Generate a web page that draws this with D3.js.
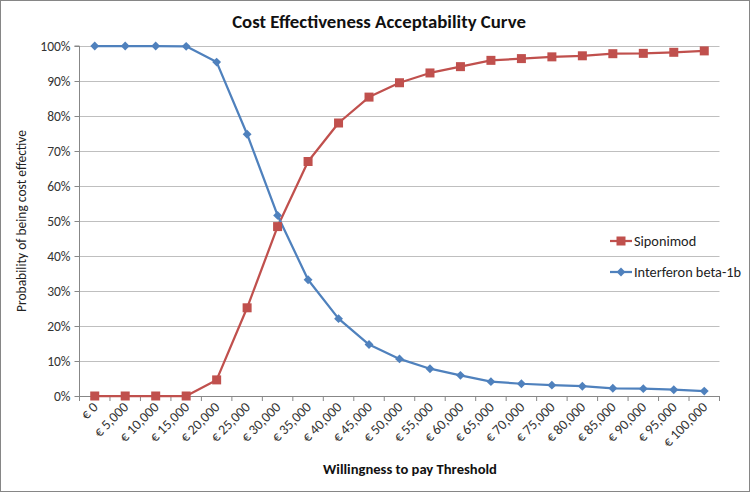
<!DOCTYPE html>
<html><head><meta charset="utf-8">
<script src="https://cdn.jsdelivr.net/npm/d3@7"></script>
<style>body{margin:0;background:#fff;} svg{display:block;font-family:Carlito,"Open Sans","Liberation Sans",sans-serif;}</style>
</head><body>
<script>
const categories = ["€ 0","€ 5,000","€ 10,000","€ 15,000","€ 20,000","€ 25,000","€ 30,000","€ 35,000","€ 40,000","€ 45,000","€ 50,000","€ 55,000","€ 60,000","€ 65,000","€ 70,000","€ 75,000","€ 80,000","€ 85,000","€ 90,000","€ 95,000","€ 100,000"];
const siponimod = [0,0,0,0,4.6,25.2,48.4,67.0,78.0,85.4,89.5,92.3,94.1,95.9,96.4,96.9,97.2,97.8,97.9,98.2,98.6];
const interferon = [100,100,100,99.9,95.4,74.8,51.6,33.2,22.1,14.7,10.6,7.8,5.9,4.1,3.5,3.1,2.8,2.2,2.1,1.8,1.4];
const yTicks = [0,10,20,30,40,50,60,70,80,90,100];
const seriesNames = ["Siponimod","Interferon beta-1b"];
const colors = ["#C0504D","#4F81BD"];

const W=750,H=492;
const svg=d3.select("body").append("svg").attr("width",W).attr("height",H);
svg.append("rect").attr("x",0.5).attr("y",0.5).attr("width",W-1).attr("height",H-1).attr("fill","#fff").attr("stroke","#868686");

const L=79.5,R=719.5,T=46,B=396;
const x=d3.scaleBand().domain(categories).range([L,R]);
const y=d3.scaleLinear().domain([0,100]).range([B,T]);

// gridlines
svg.append("g").selectAll("line").data(yTicks.filter(d=>d>0)).join("line")
 .attr("x1",L).attr("x2",R).attr("y1",d=>Math.round(y(d))+0.5).attr("y2",d=>Math.round(y(d))+0.5)
 .attr("stroke","#BFBFBF").attr("stroke-width",1);

// y axis
const ya=svg.append("g").attr("transform",`translate(${L},0)`)
 .call(d3.axisLeft(y).tickValues(yTicks).tickFormat(d=>d+"%").tickSize(5).tickPadding(4));
ya.select(".domain").attr("stroke","#878787").attr("d",`M-5,${T}H0V${B}`);
ya.selectAll(".tick line").attr("stroke","#878787");
ya.selectAll("text").attr("font-size",13.5).attr("fill","#333").style("font-family","Carlito,'Open Sans','Liberation Sans',sans-serif");

// x axis
const xa=svg.append("g").attr("transform",`translate(0,${B})`);
xa.append("line").attr("x1",L).attr("x2",R).attr("y1",0.5).attr("y2",0.5).attr("stroke","#878787");
const bounds=categories.map(c=>x(c)).concat([R]);
xa.selectAll(".tk").data(bounds).join("line").attr("class","tk")
 .attr("x1",d=>d).attr("x2",d=>d).attr("y1",0).attr("y2",5).attr("stroke","#878787");
xa.selectAll(".lbl").data(categories).join("text").attr("class","lbl")
 .attr("transform",d=>`translate(${x(d)+x.bandwidth()/2+4},${12}) rotate(-45)`)
 .attr("text-anchor","end").attr("font-size",14).attr("fill","#333").text(d=>d);

// series
const allSeries=[siponimod,interferon];
const line=d3.line().x((d,i)=>x(categories[i])+x.bandwidth()/2).y(d=>y(d));
allSeries.forEach((s,k)=>{
  svg.append("path").datum(s).attr("d",line).attr("fill","none").attr("stroke",colors[k]).attr("stroke-width",2.25).attr("stroke-linejoin","round");
});
// markers
svg.append("g").selectAll("rect").data(siponimod).join("rect")
 .attr("x",(d,i)=>x(categories[i])+x.bandwidth()/2-4.5).attr("y",d=>y(d)-4.5)
 .attr("width",9).attr("height",9).attr("fill",colors[0]);
const diamond=d3.symbol().type(d3.symbolDiamond2).size(50);
svg.append("g").selectAll("path").data(interferon).join("path")
 .attr("transform",(d,i)=>`translate(${x(categories[i])+x.bandwidth()/2},${y(d)})`)
 .attr("d",diamond).attr("fill",colors[1]);

// legend
const lg=svg.append("g");
seriesNames.forEach((n,k)=>{
  const ly=241+k*31;
  lg.append("line").attr("x1",610).attr("x2",632).attr("y1",ly).attr("y2",ly).attr("stroke",colors[k]).attr("stroke-width",2.25);
  if(k===0) lg.append("rect").attr("x",616.5).attr("y",ly-4.5).attr("width",9).attr("height",9).attr("fill",colors[0]);
  else lg.append("path").attr("transform",`translate(621,${ly})`).attr("d",diamond).attr("fill",colors[1]);
  lg.append("text").attr("x",634).attr("y",ly+5).attr("font-size",14.3).attr("fill","#222").text(n);
});

// titles
svg.append("text").attr("x",379).attr("y",28).attr("text-anchor","middle").attr("font-size",18.8).attr("font-weight","bold").attr("fill","#111").text("Cost Effectiveness Acceptability Curve");
svg.append("text").attr("x",410).attr("y",474).attr("text-anchor","middle").attr("font-size",14.6).attr("font-weight","bold").attr("fill","#111").text("Willingness to pay Threshold");
svg.append("text").attr("transform",`translate(26,${(T+B)/2}) rotate(-90)`).attr("text-anchor","middle").attr("font-size",13.5).attr("fill","#222").text("Probability of being cost effective");
</script>
</body></html>
